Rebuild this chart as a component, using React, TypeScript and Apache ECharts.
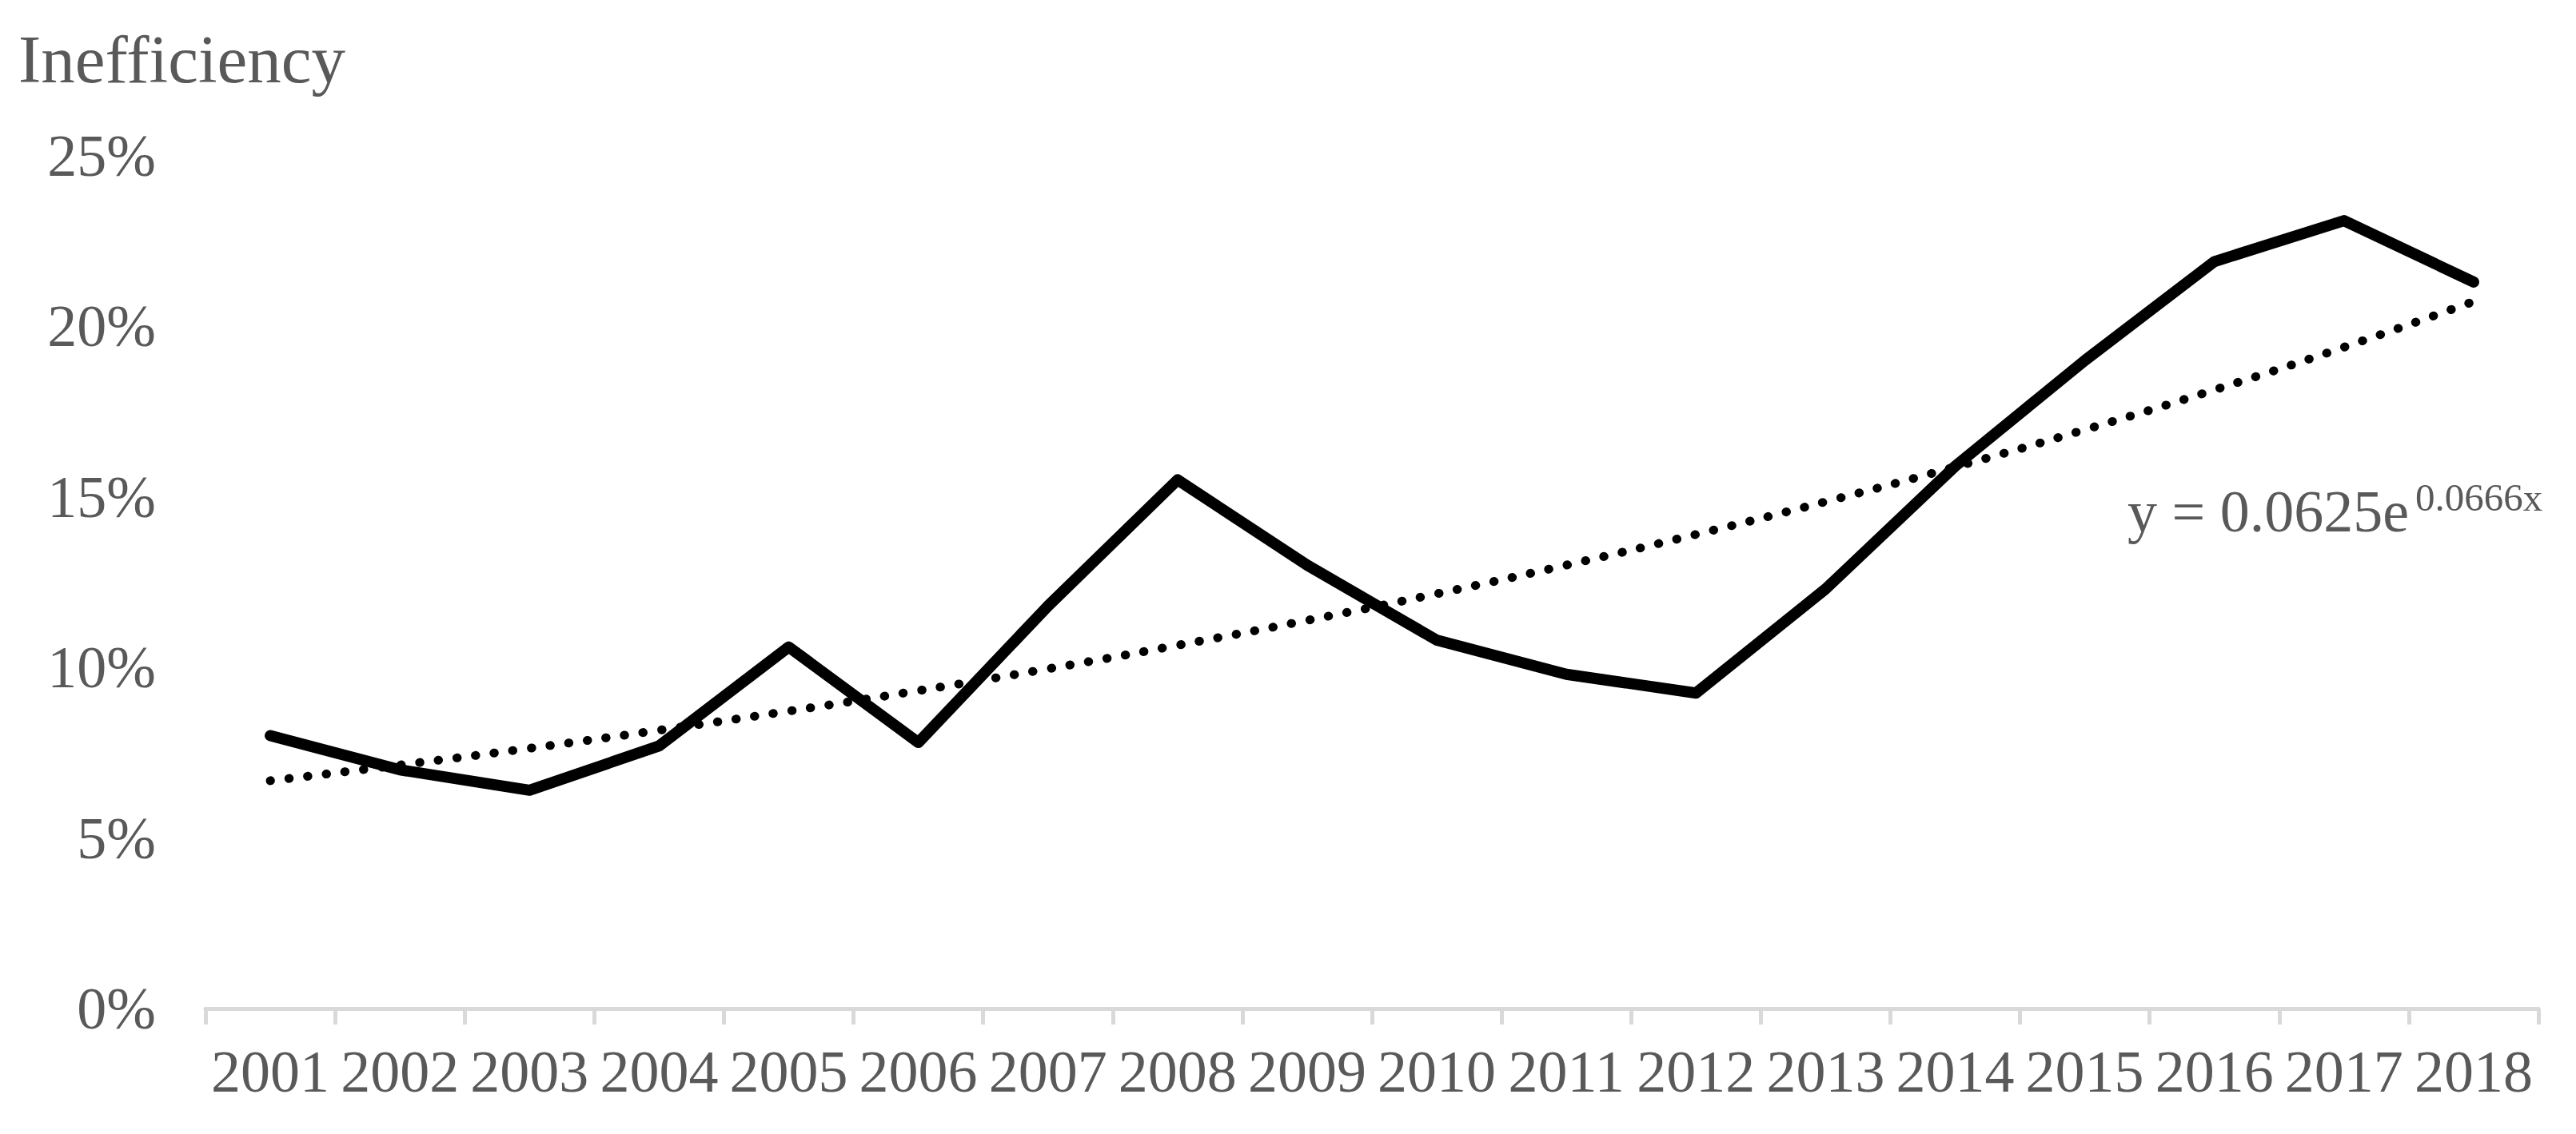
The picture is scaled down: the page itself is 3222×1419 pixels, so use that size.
import React, { useEffect, useRef } from "react";
import * as echarts from "echarts";

const years = ["2001","2002","2003","2004","2005","2006","2007","2008","2009","2010","2011","2012","2013","2014","2015","2016","2017","2018"];
const inefficiency = [8.0, 7.0, 6.4, 7.7, 10.6, 7.8, 11.8, 15.5, 13.0, 10.8, 9.8, 9.25, 12.3, 15.9, 19.0, 21.9, 23.1, 21.3];
const trend = [6.68, 7.14, 7.63, 8.16, 8.72, 9.32, 9.96, 10.65, 11.38, 12.16, 13.0, 13.9, 14.86, 15.88, 16.97, 18.14, 19.39, 20.73];
const yTicks = { min: 0, max: 25, interval: 5 };
const titleText = "Inefficiency";
const eqMain = "y = 0.0625e";
const eqSup = "0.0666x";

const FONT = "'Liberation Serif', 'Times New Roman', serif";
const GRAY = "#595959";

export default function App() {
  const ref = useRef<HTMLDivElement>(null);
  useEffect(() => {
    document.body.style.margin = "0";
    const chart = echarts.init(ref.current!, null, { renderer: "svg" });
    chart.setOption({
      animation: false,
      backgroundColor: "#ffffff",
      title: {
        text: titleText,
        left: 18,
        top: 26,
        textStyle: { fontFamily: FONT, fontSize: 85, fontWeight: "normal", color: GRAY },
      },
      grid: { left: 257, right: 47, top: 195, bottom: 157, containLabel: false },
      xAxis: {
        type: "category",
        data: years,
        boundaryGap: true,
        axisLine: { show: true, lineStyle: { color: "#d9d9d9", width: 5 } },
        axisTick: { show: true, length: 20, lineStyle: { color: "#d9d9d9", width: 5 } },
        axisLabel: { interval: 0, fontFamily: FONT, fontSize: 74, color: GRAY, margin: 42 },
        splitLine: { show: false },
      },
      yAxis: {
        type: "value",
        min: yTicks.min,
        max: yTicks.max,
        interval: yTicks.interval,
        axisLine: { show: false },
        axisTick: { show: false },
        splitLine: { show: false },
        axisLabel: { formatter: "{value}%", fontFamily: FONT, fontSize: 74, color: GRAY, margin: 62 },
      },
      series: [
        {
          type: "line",
          data: inefficiency,
          showSymbol: false,
          symbol: "none",
          lineStyle: { color: "#000000", width: 14, join: "round", cap: "round" },
          z: 2,
        },
        {
          type: "line",
          data: trend,
          showSymbol: false,
          symbol: "none",
          smooth: true,
          lineStyle: { color: "#000000", width: 11, type: [0.5, 23], cap: "round" },
          z: 3,
        },
      ],
      graphic: [
        {
          type: "text",
          x: 2661,
          y: 640,
          style: {
            text: eqMain,
            fontFamily: FONT,
            fontSize: 74,
            fill: GRAY,
            verticalAlign: "middle",
            align: "left",
          },
        },
        {
          type: "text",
          x: 3021,
          y: 598,
          style: {
            text: eqSup,
            fontFamily: FONT,
            fontSize: 49,
            fill: GRAY,
            verticalAlign: "top",
            align: "left",
          },
        },
      ],
    });
    return () => chart.dispose();
  }, []);
  return <div ref={ref} style={{ width: 3222, height: 1419 }} />;
}
